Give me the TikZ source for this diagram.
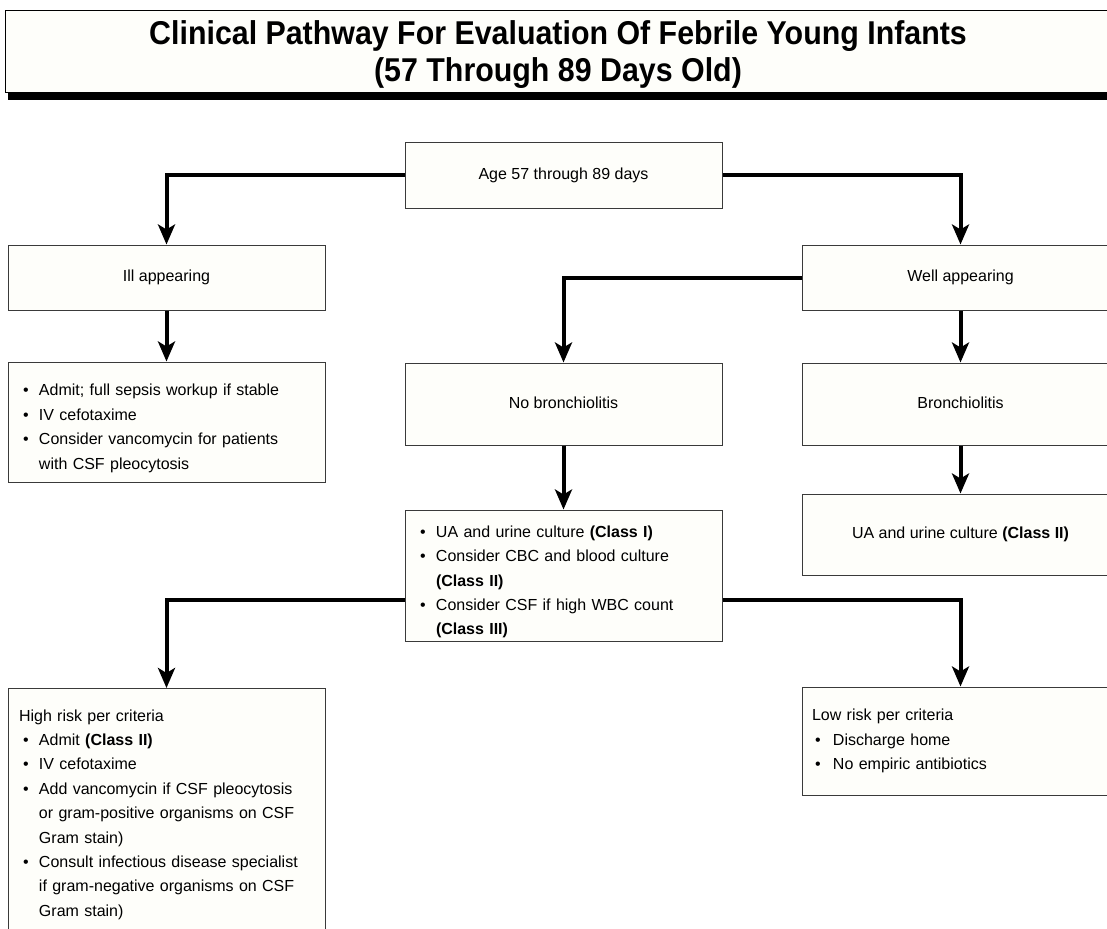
\documentclass[tikz,border=0pt]{standalone}
\usepackage{fontspec}
\setmainfont{Liberation Sans}
\usetikzlibrary{arrows.meta}
\definecolor{boxfill}{HTML}{FEFEFA}
\definecolor{boxline}{HTML}{3A3A3A}
\newcommand{\bul}[1]{\par\hangindent=16pt\hangafter=1\noindent\makebox[16pt][l]{\textbullet}#1}
\begin{document}
\begin{tikzpicture}[x=1pt,y=-1pt,
  box/.style={draw=boxline,line width=1pt,fill=boxfill,minimum width=317pt,inner sep=0pt,
    font=\fontsize{16}{24.4}\selectfont},
  onebox/.style={box,text height=8pt,text depth=0pt},
  listbox/.style={box,text width=287pt,inner xsep=15pt,align=left},
  conn/.style={line width=4pt,-{Stealth[length=20pt,width=17pt,inset=5pt]}},
]
\clip (0,0) rectangle (1107,928);
\fill[white] (0,0) rectangle (1107,928);
% title
\fill[black] (8,20) rectangle (1130,100);
\node[draw=black,line width=1.2pt,fill=boxfill,minimum width=1125pt,minimum height=82pt,anchor=north west,inner sep=0pt] (title) at (5,10) {};
\node[font=\fontsize{33}{37}\selectfont\bfseries,align=center,inner sep=0pt] (titletext) at (558,55)
  {\scalebox{0.92}[1]{Clinical Pathway For Evaluation Of Febrile Young Infants}\\
   \scalebox{0.92}[1]{(57 Through 89 Days Old)}};
% nodes
\node[onebox,minimum height=65pt] (age) at (563.5,175.5) {Age 57 through 89 days};
\node[onebox,minimum height=65pt] (ill) at (166.5,277.5) {Ill appearing};
\node[onebox,minimum height=65pt] (well) at (960.5,277.5) {Well appearing};
\node[listbox,minimum height=120pt] (illb) at (166.5,422)
  {\bul{Admit; full sepsis workup if stable}\bul{IV cefotaxime}\bul{Consider vancomycin for patients\newline with CSF pleocytosis}\par};
\node[onebox,minimum height=82pt] (nob) at (563.5,404) {No bronchiolitis};
\node[onebox,minimum height=82pt] (bron) at (960.5,404) {Bronchiolitis};
\node[listbox,minimum height=131pt] (mid) at (563.5,575.5)
  {\bul{UA and urine culture \textbf{(Class I)}}\bul{Consider CBC and blood culture\newline\textbf{(Class II)}}\bul{Consider CSF if high WBC count\newline\textbf{(Class III)}}\par};
\node[onebox,minimum height=81pt] (uar) at (960.5,534.5) {UA and urine culture \textbf{(Class II)}};
\node[listbox,minimum height=252pt,anchor=north] (high) at (166.5,688)
  {\noindent\hspace*{-4pt}High risk per criteria\bul{Admit \textbf{(Class II)}}\bul{IV cefotaxime}\bul{Add vancomycin if CSF pleocytosis\newline or gram-positive organisms on CSF\newline Gram stain)}\bul{Consult infectious disease specialist\newline if gram-negative organisms on CSF\newline Gram stain)}\par};
\node[listbox,minimum height=108pt,inner xsep=10pt,text width=297pt] (low) at (960.5,741)
  {\noindent Low risk per criteria\par\hspace*{3pt}\makebox[18pt][l]{\textbullet}Discharge home\par\hspace*{3pt}\makebox[18pt][l]{\textbullet}No empiric antibiotics\par};
% connectors
\draw[conn] (age.west) -| (ill.north);
\draw[conn] (age.east) -| (well.north);
\draw[conn] (ill.south) -- (illb.north);
\draw[conn] (well.west) -| (nob.north);
\draw[conn] (well.south) -- (bron.north);
\draw[conn] (nob.south) -- (mid.north);
\draw[conn] (bron.south) -- (uar.north);
\coordinate (midl) at ([yshift=-24.5pt]mid.west);
\coordinate (midr) at ([yshift=-24.5pt]mid.east);
\draw[conn] (midl) -| (high.north);
\draw[conn] (midr) -| (low.north);
\end{tikzpicture}
\end{document}
